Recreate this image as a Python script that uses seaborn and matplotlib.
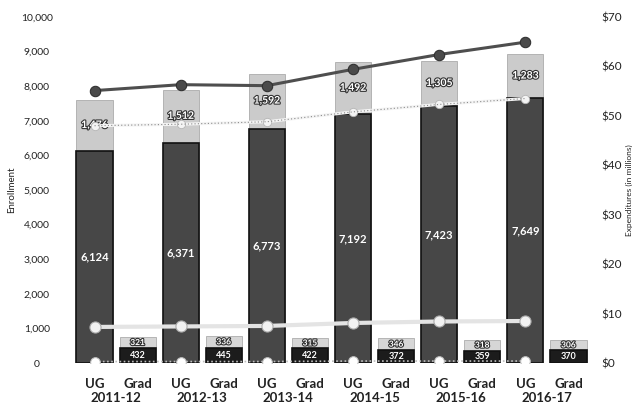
import matplotlib
matplotlib.use("Agg")
import matplotlib.pyplot as plt
import matplotlib.patheffects as pe
import matplotlib.transforms as mtransforms
import numpy as np
import pandas as pd
import seaborn as sns

# Enrollment by academic year (headcount)
years = ["2011-12", "2012-13", "2013-14", "2014-15", "2015-16", "2016-17"]
ug_lower = [6124, 6371, 6773, 7192, 7423, 7649]
ug_upper = [1476, 1512, 1592, 1492, 1305, 1283]
grad_lower = [432, 445, 422, 372, 359, 370]
grad_upper = [321, 336, 315, 346, 318, 306]

# Expenditures (in millions of dollars)
exp_total = [55.1, 56.3, 56.1, 59.4, 62.4, 64.9]
exp_ug = [48.0, 48.3, 48.8, 50.8, 52.3, 53.5]
exp_grad = [7.3, 7.4, 7.5, 8.1, 8.4, 8.5]
exp_other = [0.3, 0.3, 0.3, 0.4, 0.4, 0.4]

rows = []
for i, yr in enumerate(years):
    rows.append({"slot": f"UG {yr}", "level": "UG", "lower": ug_lower[i],
                 "upper": ug_upper[i]})
    rows.append({"slot": f"Grad {yr}", "level": "Grad", "lower": grad_lower[i],
                 "upper": grad_upper[i]})
df = pd.DataFrame(rows)
df["total"] = df["lower"] + df["upper"]
order = list(df["slot"])

sns.set_theme(style="white")
plt.rcParams["font.family"] = ["Lato", "DejaVu Sans"]

fig = plt.figure(figsize=(6.32, 4.13), dpi=100)
ax = fig.add_axes([0.1155, 0.121, 0.818, 0.838])

upper_pal = {"UG": "#cbcbcb", "Grad": "#d6d6d6"}
lower_pal = {"UG": "#474747", "Grad": "#1c1c1c"}

sns.barplot(data=df, x="slot", y="total", hue="level", order=order,
            palette=upper_pal, dodge=False, width=0.84, legend=False,
            ax=ax, edgecolor="#a0a0a0", linewidth=0.5)
sns.barplot(data=df, x="slot", y="lower", hue="level", order=order,
            palette=lower_pal, dodge=False, width=0.84, legend=False,
            ax=ax, edgecolor="#111111", linewidth=1.2)

# Segment labels
outline = [pe.withStroke(linewidth=1.6, foreground="#333333")]
for i, r in df.iterrows():
    big = r["level"] == "UG"
    fs = 8 if big else 6.5
    ax.text(i, r["lower"] / 2, f"{r['lower']:,}", ha="center", va="center",
            color="white", fontsize=fs, fontweight="bold")
    ax.text(i, r["lower"] + r["upper"] / 2, f"{r['upper']:,}", ha="center",
            va="center", color="white", fontsize=fs - 0.5, fontweight="bold",
            path_effects=outline)

ax.set_ylim(0, 10000)
ax.set_xlim(-0.5, len(order) - 0.5)
ax.set_yticks(range(0, 10001, 1000))
ax.set_yticklabels([f"{v:,}" for v in range(0, 10001, 1000)])
ax.tick_params(axis="y", length=0, pad=26, labelsize=7.5, colors="#222222")
for lbl in ax.get_yticklabels():
    lbl.set_horizontalalignment("center")
ax.set_xticks(range(len(order)))
ax.set_xticklabels([r["level"] for _, r in df.iterrows()])
ax.tick_params(axis="x", length=0, pad=11, labelsize=9.5, colors="#222222")
for lbl in ax.get_xticklabels():
    lbl.set_fontweight("bold")
ax.set_xlabel("")
ax.set_ylabel("Enrollment", fontsize=7, color="#222222")
ax.yaxis.set_label_coords(-0.11, 0.5)

trans = mtransforms.blended_transform_factory(ax.transData, ax.transAxes)
for j, yr in enumerate(years):
    ax.text(2 * j + 0.5, -0.1, yr, transform=trans, ha="center", va="center",
            fontsize=9.5, fontweight="bold", color="#222222")

for s in ax.spines.values():
    s.set_visible(False)

# Expenditure lines on the secondary axis
ax2 = ax.twinx()
xs = np.arange(0, 12, 2)
sns.lineplot(x=xs, y=exp_other, ax=ax2, color="#bdbdbd", lw=1.2,
             linestyle=(0, (1, 1.5)), marker="o", markersize=7,
             markerfacecolor="white", markeredgecolor="#bbbbbb")
sns.lineplot(x=xs, y=exp_grad, ax=ax2, color="#e4e4e4", lw=3,
             marker="o", markersize=8, markerfacecolor="#f2f2f2",
             markeredgecolor="#aaaaaa", markeredgewidth=0.8)
sns.lineplot(x=xs, y=exp_ug, ax=ax2, color="#f4f4f4", lw=2.2,
             marker="o", markersize=6, markerfacecolor="#f4f4f4",
             markeredgecolor="#b5b5b5", markeredgewidth=0.6)
sns.lineplot(x=xs, y=exp_ug, ax=ax2, color="#8a8a8a", lw=0.8,
             linestyle=(0, (1, 2)))
sns.lineplot(x=xs, y=exp_total, ax=ax2, color="#4e4e4e", lw=2.2,
             marker="o", markersize=7.5, markerfacecolor="#4a4a4a",
             markeredgecolor="#2e2e2e")

ax2.set_ylim(0, 70)
ax2.set_xlim(-0.5, len(order) - 0.5)
ax2.set_yticks(range(0, 71, 10))
ax2.set_yticklabels([f"${v}" for v in range(0, 71, 10)])
ax2.tick_params(axis="y", length=0, pad=8, labelsize=8.5, colors="#222222")
ax2.set_ylabel("Expenditures (in millions)", fontsize=6, color="#222222")
ax2.yaxis.set_label_coords(1.07, 0.5)
ax2.grid(False)
ax.grid(False)
for s in ax2.spines.values():
    s.set_visible(False)

fig.savefig("out.png", dpi=100)
